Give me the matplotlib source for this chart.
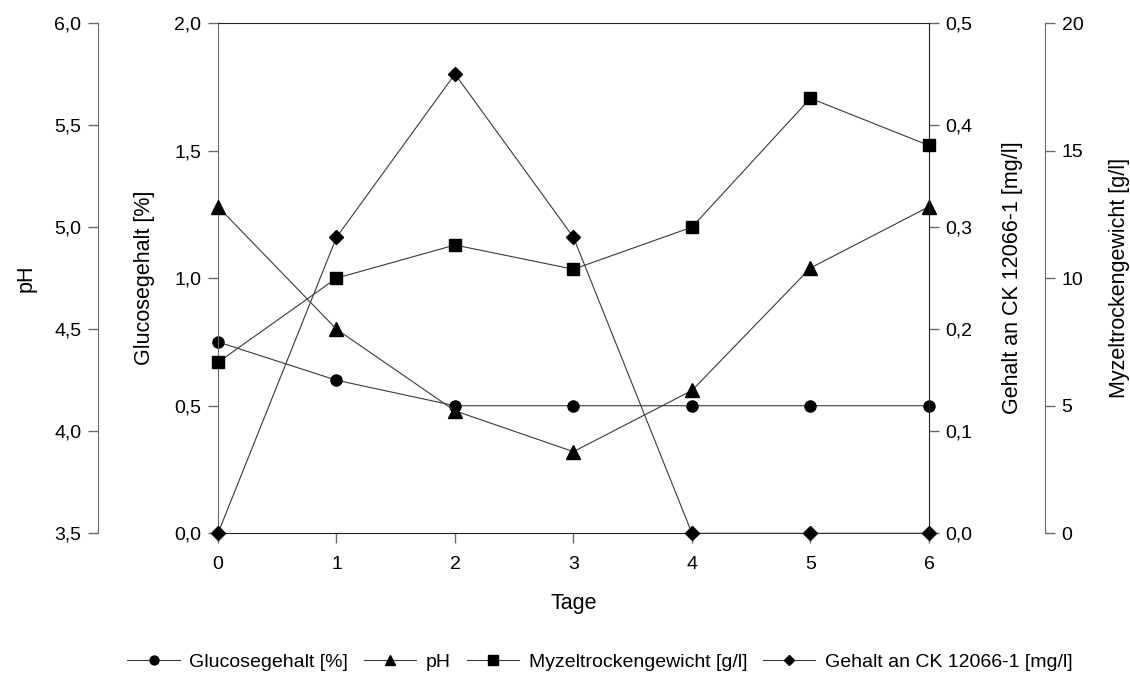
import numpy as np
import matplotlib
matplotlib.use('Agg')
import matplotlib.pyplot as plt

plt.rcParams.update({
    "font.family": ["Liberation Sans", "DejaVu Sans"],
    "font.size": 14,
})

# ---- data ---------------------------------------------------------------
tage    = [0, 1, 2, 3, 4, 5, 6]
glucose = [0.75, 0.60, 0.50, 0.50, 0.50, 0.50, 0.50]    # %
ph      = [5.1, 4.5, 4.1, 3.9, 4.2, 4.8, 5.1]
myzel   = [6.7, 10.0, 11.3, 10.35, 12.0, 17.05, 15.2]  # g/l
ck      = [0.0, 0.29, 0.45, 0.29, 0.0, 0.0, 0.0]        # mg/l

glc_ticks = [0.0, 0.5, 1.0, 1.5, 2.0]
ph_ticks  = [3.5, 4.0, 4.5, 5.0, 5.5, 6.0]
ck_ticks  = [0.0, 0.1, 0.2, 0.3, 0.4, 0.5]
myz_ticks = [0, 5, 10, 15, 20]


def komma(vals, nd):
    return [f"{v:.{nd}f}".replace('.', ',') for v in vals]


LINE = '#3a3a3a'
GREY = '#6a6a6a'
TICK_FS = 14
LABEL_FS = 15.5

fig = plt.figure(figsize=(11.3, 6.75), dpi=100)
host = fig.add_axes([0.1929, 0.2099, 0.6292, 0.7560])
ax_ph  = host.twinx()
ax_ck  = host.twinx()
ax_myz = host.twinx()

tick_kw = dict(direction='out', length=7, width=1, labelsize=TICK_FS, pad=5)

# ---- host: Glucose (left) -----------------------------------------------
host.set_xlim(0, 6)
host.set_ylim(0, 2.0)
host.set_xticks(tage)
host.set_xticklabels([str(t) for t in tage])
host.set_yticks(glc_ticks)
host.set_yticklabels(komma(glc_ticks, 1))
host.tick_params(axis='both', colors=GREY, labelcolor='black', **tick_kw)
host.tick_params(axis='x', pad=9)
host.spines['left'].set_color(GREY)
host.spines['right'].set_visible(False)
for s in ('top', 'bottom'):
    host.spines[s].set_color('#222222')
host.set_xlabel("Tage", fontsize=LABEL_FS)
host.xaxis.set_label_coords(0.5, -0.117)
host.set_ylabel("Glucosegehalt [%]", fontsize=LABEL_FS)
host.yaxis.set_label_coords(-0.088, 0.5)

# ---- pH (outer left) ----------------------------------------------------
ax_ph.set_ylim(3.5, 6.0)
ax_ph.yaxis.set_ticks_position('left')
ax_ph.yaxis.set_label_position('left')
ax_ph.spines['left'].set_position(('axes', -0.1688))
ax_ph.spines['left'].set_visible(True)
ax_ph.spines['left'].set_color(GREY)
for s in ('right', 'top', 'bottom'):
    ax_ph.spines[s].set_visible(False)
ax_ph.set_yticks(ph_ticks)
ax_ph.set_yticklabels(komma(ph_ticks, 1))
ax_ph.tick_params(axis='y', colors=GREY, labelcolor='black', **tick_kw)
ax_ph.set_ylabel("pH", fontsize=LABEL_FS)
ax_ph.yaxis.set_label_coords(-0.255, 0.5)

# ---- CK 12066-1 (right) -------------------------------------------------
ax_ck.set_ylim(0, 0.5)
ax_ck.set_yticks(ck_ticks)
ax_ck.set_yticklabels(komma(ck_ticks, 1))
ax_ck.spines['right'].set_color('#222222')
for s in ('left', 'top', 'bottom'):
    ax_ck.spines[s].set_visible(False)
ax_ck.tick_params(axis='y', colors=GREY, labelcolor='black', **tick_kw)
ax_ck.set_ylabel("Gehalt an CK 12066-1 [mg/l]", fontsize=LABEL_FS)
ax_ck.yaxis.set_label_coords(1.103, 0.5)

# ---- Myzeltrockengewicht (outer right) ----------------------------------
ax_myz.set_ylim(0, 20)
ax_myz.spines['right'].set_position(('axes', 1.1632))
ax_myz.spines['right'].set_color(GREY)
for s in ('left', 'top', 'bottom'):
    ax_myz.spines[s].set_visible(False)
ax_myz.set_yticks(myz_ticks)
ax_myz.set_yticklabels([str(v) for v in myz_ticks])
ax_myz.tick_params(axis='y', colors=GREY, labelcolor='black', **tick_kw)
ax_myz.set_ylabel("Myzeltrockengewicht [g/l]", fontsize=LABEL_FS)
ax_myz.yaxis.set_label_coords(1.253, 0.5)

# ---- series -------------------------------------------------------------
line_kw = dict(color=LINE, lw=0.8, mfc='black', mec='black', clip_on=False)
h1, = host.plot(tage, glucose, marker='o', ms=8, label="Glucosegehalt [%]", **line_kw)
h2, = ax_ph.plot(tage, ph, marker='^', ms=9.5, label="pH", **line_kw)
h3, = ax_myz.plot(tage, myzel, marker='s', ms=8.5, label="Myzeltrockengewicht [g/l]", **line_kw)
h4, = ax_ck.plot(tage, ck, marker='D', ms=7, label="Gehalt an CK 12066-1 [mg/l]", **line_kw)

fig.legend(handles=[h1, h2, h3, h4], loc='center', bbox_to_anchor=(0.531, 0.019),
           ncol=4, frameon=False, fontsize=14, handlelength=2.7, markerscale=0.8,
           handletextpad=0.5, columnspacing=0.8)

fig.savefig("out.png", dpi=100)
